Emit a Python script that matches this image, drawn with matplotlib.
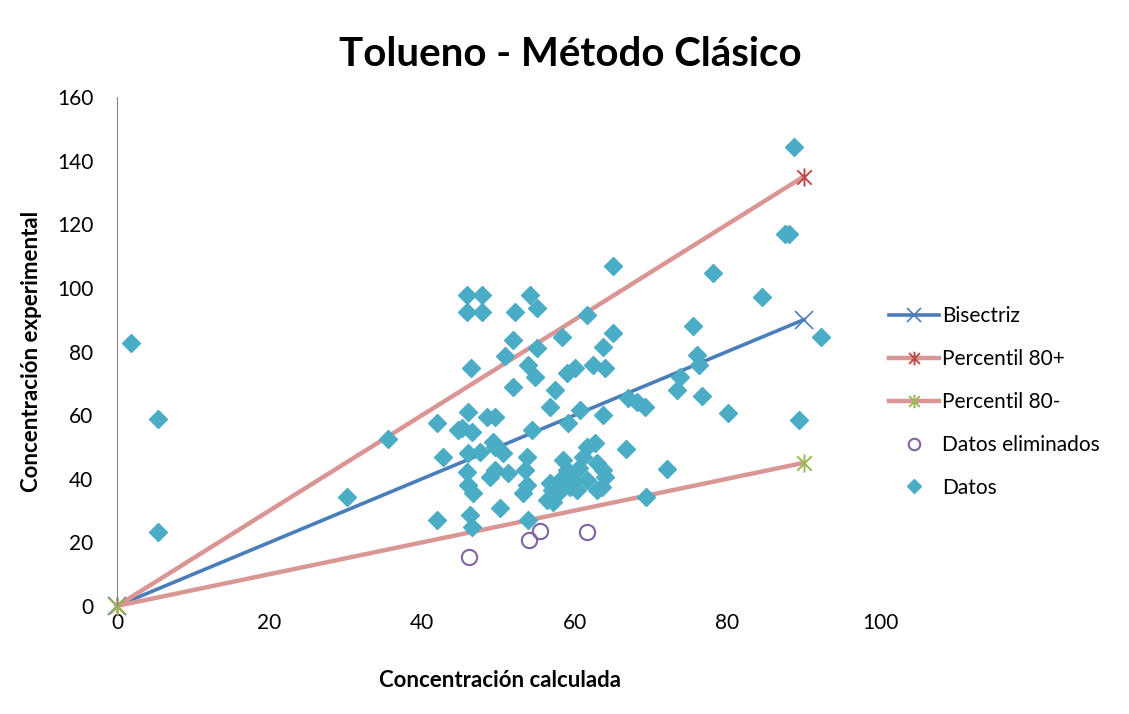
import matplotlib

matplotlib.use("Agg")
import matplotlib.pyplot as plt
from matplotlib.path import Path

# Datos
datos_x = [1.8, 5.4, 5.4, 30.1, 35.5, 41.9, 41.9, 42.7, 44.7, 45.2, 46.5, 46.0,
           46.0, 47.6, 45.9, 46.0, 46.7, 46.3, 46.5, 48.5, 49.5, 49.5, 50.6, 49.5,
           51.2, 50.2, 53.7, 53.5, 53.7, 53.2, 53.9, 54.4, 56.7, 57.4, 58.5, 59.0,
           58.1, 57.0, 56.4, 57.1, 59.8, 60.3, 59.4, 59.1, 60.7, 61.6, 62.6, 61.1,
           62.9, 64.0, 61.6, 62.9, 63.7, 63.5, 63.7, 66.7, 72.1, 69.3, 67.0, 68.2,
           69.2, 73.8, 73.4, 76.7, 80.1, 76.0, 76.3, 75.5, 84.5, 78.1, 65.0, 88.7,
           87.6, 88.1, 92.3, 89.4, 65.0, 63.7, 64.0, 62.4, 59.0, 60.0, 58.3, 61.6,
           55.0, 51.9, 50.9, 53.9, 54.8, 46.4, 51.9, 45.9, 47.8, 45.9, 47.8, 54.1,
           55.0, 52.2, 60.5, 56.7, 57.8, 48.9, 49.3]
datos_y = [82.7, 58.8, 23.3, 34.3, 52.4, 57.4, 27.0, 46.9, 55.3, 56.0, 54.7, 61.0,
           48.1, 48.4, 42.1, 38.1, 35.5, 28.6, 24.8, 59.4, 59.4, 50.0, 48.1, 42.8,
           41.8, 30.8, 46.9, 42.8, 38.1, 35.5, 27.0, 55.3, 62.6, 67.9, 45.9, 42.8,
           39.6, 36.5, 33.3, 32.7, 39.6, 36.5, 37.4, 57.5, 61.6, 50.0, 51.3, 46.9,
           45.0, 40.6, 39.6, 36.5, 42.8, 37.5, 60.1, 49.4, 43.1, 34.3, 65.4, 64.2,
           62.6, 72.0, 67.9, 66.0, 60.7, 78.9, 75.8, 88.1, 97.2, 104.7, 106.9, 144.3,
           117.0, 117.0, 84.6, 58.5, 85.8, 81.4, 74.8, 75.8, 73.3, 74.8, 84.6, 91.5,
           81.1, 83.6, 78.6, 75.8, 72.0, 74.8, 68.9, 97.8, 97.8, 92.5, 92.5, 97.8,
           93.7, 92.5, 43.4, 38.7, 35.5, 40.6, 51.6]

eliminados_x = [46.1, 54.0, 55.4, 61.6]
eliminados_y = [15.4, 20.8, 23.6, 23.3]

rectas_x = [0, 90]
bisectriz_y = [0, 90]
percentil_mas_y = [0, 135]
percentil_menos_y = [0, 45]

# Marcador asterisco tipo Excel (X con trazo vertical)
asterisco = Path(
    [(0, -1), (0, 1), (-0.8, -0.8), (0.8, 0.8), (-0.8, 0.8), (0.8, -0.8)],
    [Path.MOVETO, Path.LINETO] * 3,
)


def main():
    plt.rcParams["font.family"] = ["Lato", "DejaVu Sans"]

    fig = plt.figure(figsize=(11.29, 7.14), dpi=100)
    ax = fig.add_axes([0.1036, 0.1513, 0.6759, 0.7128])

    ax.plot(rectas_x, bisectriz_y, color="#4a7ebb", lw=2.6, marker="x",
            ms=13, mew=1.2, mec="#4a7ebb", label="Bisectriz")
    ax.plot(rectas_x, percentil_mas_y, color="#d99694", lw=3.2, marker=asterisco,
            ms=13, mew=1.4, mec="#be4b48", label="Percentil 80+")
    ax.plot(rectas_x, percentil_menos_y, color="#d99694", lw=3.2, marker=asterisco,
            ms=13, mew=1.4, mec="#98b954", label="Percentil 80-")
    ax.plot(eliminados_x, eliminados_y, ls="none", marker="o", ms=11,
            mfc="none", mec="#8064a2", mew=1.5, label="Datos eliminados")
    ax.plot(datos_x, datos_y, ls="none", marker="D", ms=9.5, color="#4bacc6",
            mec="#4bacc6", label="Datos")

    ax.set_xlim(0, 100)
    ax.set_ylim(0, 160)
    ax.set_xticks(range(0, 101, 20))
    ax.set_yticks(range(0, 161, 20))
    ax.tick_params(length=0, labelsize=15)
    ax.tick_params(axis="x", pad=5)
    ax.tick_params(axis="y", pad=17)
    for lado in ["top", "right", "bottom"]:
        ax.spines[lado].set_visible(False)
    ax.spines["left"].set_color("#868686")
    for linea in ax.lines:
        linea.set_clip_on(False)

    ax.set_xlabel("Concentración calculada", fontsize=16, fontweight="bold")
    ax.set_ylabel("Concentración experimental", fontsize=16, fontweight="bold")
    ax.xaxis.set_label_coords(0.502, -0.125)
    ax.yaxis.set_label_coords(-0.098, 0.5)
    fig.text(0.505, 0.923, "Tolueno - Método Clásico", fontsize=29,
             fontweight="bold", ha="center", va="center")

    fig.legend(loc="upper left", bbox_to_anchor=(0.780, 0.583), frameon=False,
               fontsize=15, labelspacing=1.1, handlelength=2.4, handletextpad=0.15,
               borderaxespad=0, markerscale=0.75)

    fig.savefig("out.png", dpi=100)
    plt.close(fig)


if __name__ == "__main__":
    main()
